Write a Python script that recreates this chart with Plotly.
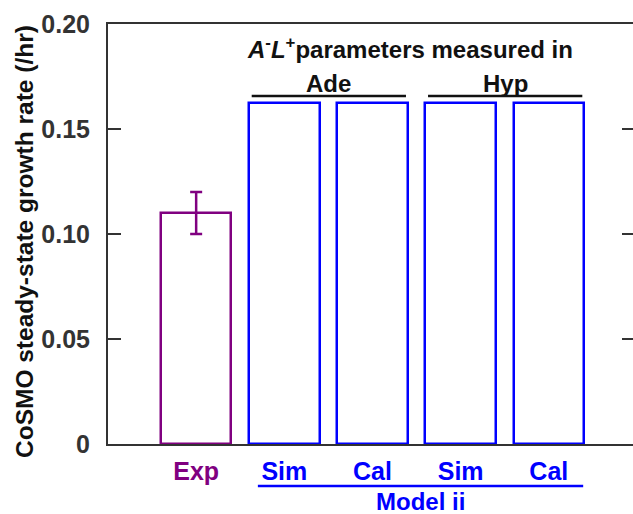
import plotly.graph_objects as go

categories = ["Exp", "Sim", "Cal", "Sim", "Cal"]
positions = [1, 2, 3, 4, 5]
values = [0.110, 0.1625, 0.1622, 0.1625, 0.1622]
err_plus = [0.010, 0, 0, 0, 0]
colors = ["#800080", "#0000FF", "#0000FF", "#0000FF", "#0000FF"]
ytick_vals = [0, 0.05, 0.10, 0.15, 0.20]
ytick_text = ["0", "0.05", "0.10", "0.15", "0.20"]
group_labels = ["Ade", "Hyp"]
group_members = [[2, 3], [4, 5]]
model_members = [2, 5]

FONT = "Liberation Sans, Arial, sans-serif"
AX = "#333333"
BW = 0.8

fig = go.Figure()
fig.add_trace(go.Bar(
    x=positions, y=values, width=BW,
    marker=dict(color="white", line=dict(color=colors, width=2.5)),
    showlegend=False, hoverinfo="skip",
))
fig.add_trace(go.Scatter(
    x=positions[:1], y=values[:1], mode="markers",
    marker=dict(size=1, color="rgba(0,0,0,0)"),
    error_y=dict(type="data", array=err_plus[:1], color=colors[0], thickness=2.5, width=6),
    showlegend=False, hoverinfo="skip",
))
# invisible trace for right-side ticks
fig.add_trace(go.Scatter(x=positions[:1], y=values[:1], yaxis="y2", mode="markers",
                         marker=dict(size=1, color="rgba(0,0,0,0)"), showlegend=False,
                         hoverinfo="skip"))

ticktext = [f"<span style='color:{c}'><b>{t}</b></span>" for t, c in zip(categories, colors)]

fig.update_layout(
    width=633, height=514,
    margin=dict(l=108, r=0, t=24, b=70),
    plot_bgcolor="white", paper_bgcolor="white",
    font=dict(family=FONT, size=24, color="#222222"),
    bargap=0,
    xaxis=dict(
        range=[0, 5.955], tickvals=positions, ticktext=ticktext,
        showline=True, linecolor=AX, linewidth=2, mirror=True,
        ticks="", showgrid=False, zeroline=False,
        tickfont=dict(size=25, family=FONT),
        ticklabelstandoff=4,
    ),
    yaxis=dict(
        range=[0, 0.2], tickvals=ytick_vals, ticktext=[f"<b>{t}</b>" for t in ytick_text],
        showline=True, linecolor=AX, linewidth=2,
        ticks="inside", ticklen=13, tickwidth=2, tickcolor=AX,
        showgrid=False, zeroline=False,
        tickfont=dict(size=25, family=FONT, color="#333333"),
        ticklabelstandoff=11,
    ),
    yaxis2=dict(
        range=[0, 0.2], overlaying="y", side="right", tickvals=ytick_vals,
        showticklabels=False, showline=False, ticks="inside", ticklen=11,
        tickwidth=2, tickcolor=AX, showgrid=False, zeroline=False,
    ),
)

# y-axis title
fig.add_annotation(
    x=-0.158, y=0.481, xref="paper", yref="paper", showarrow=False,
    xanchor="center", yanchor="middle", textangle=-90,
    text="<b>CoSMO steady-state growth rate (/hr)</b>",
    font=dict(size=24.5, family=FONT, color="#111111"),
)

# header text
fig.add_annotation(
    x=3.42, y=0.1886, xref="x", yref="y", showarrow=False,
    xanchor="center", yanchor="middle",
    text="<b><i>A</i><sup>-</sup><i>L</i><sup>+</sup>parameters measured in</b>",
    font=dict(size=24, family=FONT, color="#111111"),
)
for lab, mem in zip(group_labels, group_members):
    x0 = mem[0] - BW / 2 + 0.03
    x1 = mem[1] + BW / 2 - 0.02
    fig.add_shape(type="line", x0=x0, x1=x1, y0=0.1657, y1=0.1657, xref="x", yref="y",
                  line=dict(color="#111111", width=2.5))
    fig.add_annotation(x=(x0 + x1) / 2, y=0.1715, xref="x", yref="y", showarrow=False,
                       xanchor="center", yanchor="middle",
                       text=f"<b>{lab}</b>", font=dict(size=24, family=FONT, color="#111111"))

# model underline
mx0 = model_members[0] - BW / 2 + 0.1
mx1 = model_members[1] + BW / 2 - 0.01
fig.add_shape(type="line", x0=mx0, x1=mx1, y0=-0.1, y1=-0.1, xref="x", yref="paper",
              line=dict(color="#0000FF", width=2.5))
fig.add_annotation(x=(mx0 + mx1) / 2, y=-0.136, xref="x", yref="paper", showarrow=False,
                   xanchor="center", yanchor="middle", borderpad=0,
                   text="<b>Model ii</b>", font=dict(size=24, family=FONT, color="#0000FF"))

fig.write_html("out.html")
